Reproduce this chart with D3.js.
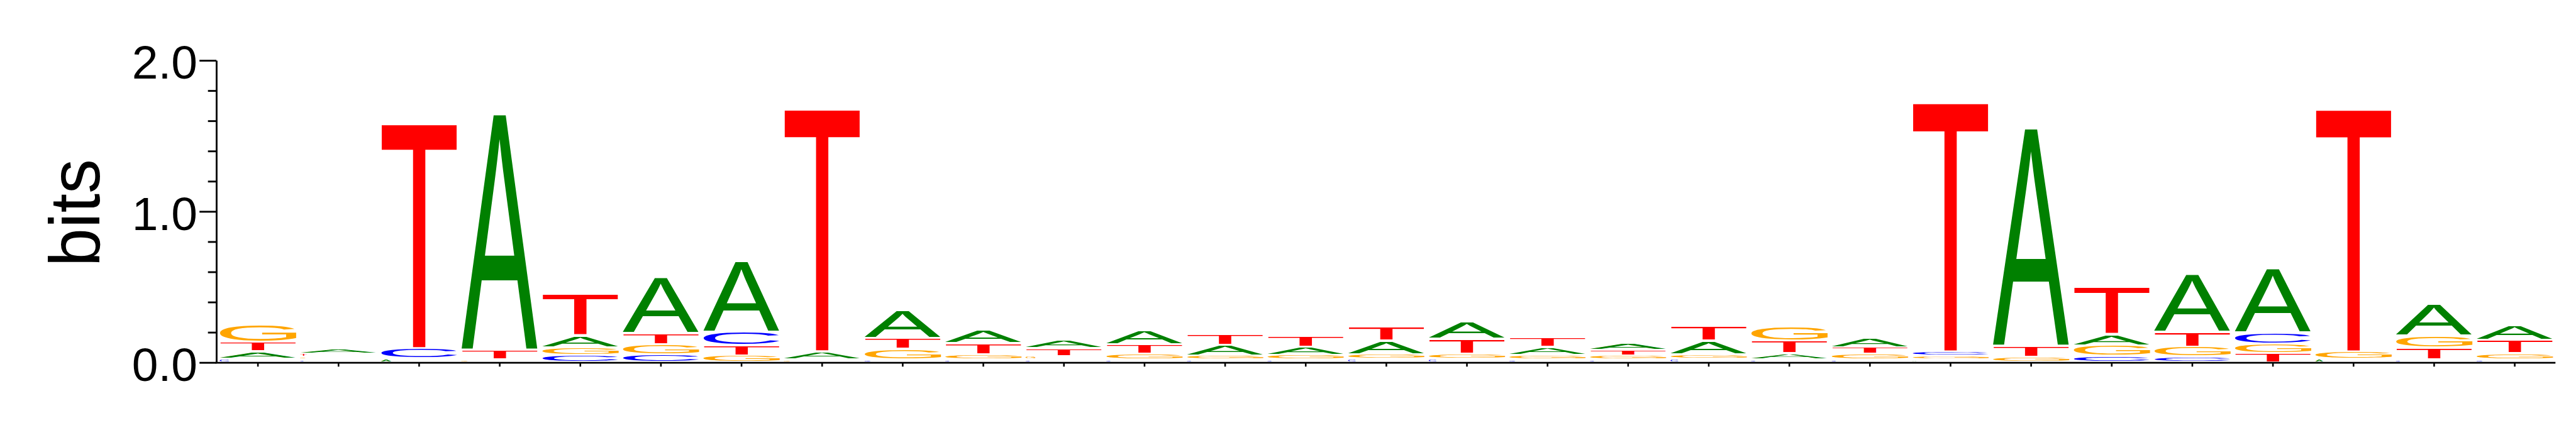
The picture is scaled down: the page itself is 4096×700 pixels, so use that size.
<!DOCTYPE html>
<html><head><meta charset="utf-8">
<script src="https://cdn.jsdelivr.net/npm/d3@7"></script>
<style>html,body{margin:0;padding:0;background:#fff;overflow:hidden}</style>
</head><body><svg id="chart"></svg>
<script>
// ---- data (bits per letter, per column) ----
const positions = d3.range(1, 30);
const letters = ["A", "C", "G", "T"];
const bitsA = [0.048,0.032,0.025,1.591,0.077,0.376,0.477,0.052,0.189,0.086,0.056,0.093,0.070,0.054,0.091,0.114,0.053,0.043,0.089,0.042,0.062,0.018,1.469,0.073,0.390,0.433,0.022,0.213,0.100];
const bitsC = [0.024,0.017,0.068,0,0.048,0.053,0.091,0,0.020,0.018,0.018,0.018,0.018,0.018,0.022,0.022,0.020,0.018,0.022,0.018,0.018,0.027,0,0.041,0.037,0.074,0,0.018,0.020];
const bitsG = [0.120,0.019,0,0.020,0.051,0.067,0.045,0.020,0.069,0.035,0.024,0.039,0.028,0.032,0.032,0.034,0.029,0.027,0.031,0.095,0.038,0.026,0.035,0.071,0.067,0.062,0.049,0.082,0.041];
const bitsT = [0.062,0.021,1.515,0.064,0.280,0.073,0.067,1.635,0.073,0.073,0.051,0.061,0.072,0.074,0.092,0.099,0.063,0.037,0.098,0.081,0.043,1.680,0.075,0.319,0.100,0.061,1.635,0.079,0.086];
const majorTicks = [0, 1, 2];
const majorLabels = ["0.0", "1.0", "2.0"];
const minorTicks = [0.2, 0.4, 0.6, 0.8, 1.2, 1.4, 1.6, 1.8];
const yTitle = "bits";
const colors = {A: "#008000", C: "#0000ff", G: "#ffa500", T: "#ff0000"};

// ---- layout (reference pixel space, scaled by viewBox) ----
const W = 6392, H = 1092;
const FONT = '"Liberation Sans", Arial, Helvetica, sans-serif';
const svg = d3.select("#chart")
  .attr("width", 4096).attr("height", 700)
  .attr("viewBox", `0 0 ${W} ${H}`);

const x = d3.scaleBand().domain(positions).range([540, 6340])
  .paddingInner(0.05).paddingOuter(0.025);
const y = d3.scaleLinear().domain([0, 2]).range([900, 150]);
const axisX = 537;

// glyph ink metrics via canvas
const cv = document.createElement("canvas");
const ctx = cv.getContext("2d");
const FS = 1000;
ctx.font = `${FS}px ${FONT}`;
const met = {};
letters.concat([yTitle]).forEach(s => {
  const m = ctx.measureText(s);
  met[s] = {l: m.actualBoundingBoxLeft, r: m.actualBoundingBoxRight,
            a: m.actualBoundingBoxAscent, d: m.actualBoundingBoxDescent};
});

// ---- stacks ----
const series = {A: bitsA, C: bitsC, G: bitsG, T: bitsT};
const stacks = positions.map((p, i) => {
  const vals = letters.map(L => ({L, v: series[L][i]}))
    .filter(o => o.v > 0)
    .sort((a, b) => a.v - b.v);
  let cum = 0;
  vals.forEach(o => { o.y0 = cum; cum += o.v; o.y1 = cum; o.p = p; });
  return vals;
});

const gL = svg.append("g");
stacks.forEach(vals => {
  vals.forEach(o => {
    const yBot = y(o.y0) - 1, yTop = y(o.y1) - 1;
    const inkTop = yTop + 2.5, inkBot = yBot - 2.5;
    const inkH = inkBot - inkTop;
    if (inkH < 0.3) return;
    const w = inkH < 4.5 ? inkH * 6 : x.bandwidth();
    const m = met[o.L];
    gL.append("text")
      .attr("font-family", FONT).attr("font-size", FS)
      .attr("fill", colors[o.L])
      .attr("transform", `translate(${x(o.p)},${inkTop}) scale(${w / (m.l + m.r)},${inkH / (m.a + m.d)}) translate(${m.l},${m.a})`)
      .text(o.L);
  });
});

// ---- axes ----
const gy = svg.append("g").attr("transform", `translate(${axisX},0)`);
gy.call(d3.axisLeft(y).tickValues(majorTicks).tickFormat((d, i) => majorLabels[i])
  .tickSize(42).tickSizeOuter(0).tickPadding(5));
gy.select(".domain").attr("stroke", "#000").attr("stroke-width", 4.5);
gy.selectAll(".tick line").attr("stroke", "#000").attr("stroke-width", 4.5);
gy.selectAll(".tick text").attr("font-family", FONT).attr("font-size", 117)
  .attr("fill", "#000").attr("dy", "0.384em");

const gm = svg.append("g").attr("transform", `translate(${axisX},0)`);
gm.call(d3.axisLeft(y).tickValues(minorTicks).tickFormat("").tickSize(21).tickSizeOuter(0));
gm.select(".domain").remove();
gm.selectAll(".tick line").attr("stroke", "#000").attr("stroke-width", 4.5);

const gx = svg.append("g").attr("transform", `translate(0,${y(0)})`);
gx.call(d3.axisBottom(x).tickFormat("").tickSize(10).tickSizeOuter(0));
gx.select(".domain").remove();
gx.selectAll(".tick line").attr("stroke", "#000").attr("stroke-width", 4);
gx.append("line")
  .attr("x1", axisX - 2).attr("x2", x.range()[1] + 1)
  .attr("y1", 0.5).attr("y2", 0.5)
  .attr("stroke", "#000").attr("stroke-width", 4.5);

// ---- y title ----
const mb = met[yTitle];
svg.append("text")
  .attr("font-family", FONT).attr("font-size", FS).attr("fill", "#000")
  .attr("transform", `translate(250,651) rotate(-90) scale(${251 / (mb.l + mb.r)},${132 / (mb.a + mb.d)}) translate(${mb.l},${-mb.d})`)
  .text(yTitle);
</script>
</body></html>
